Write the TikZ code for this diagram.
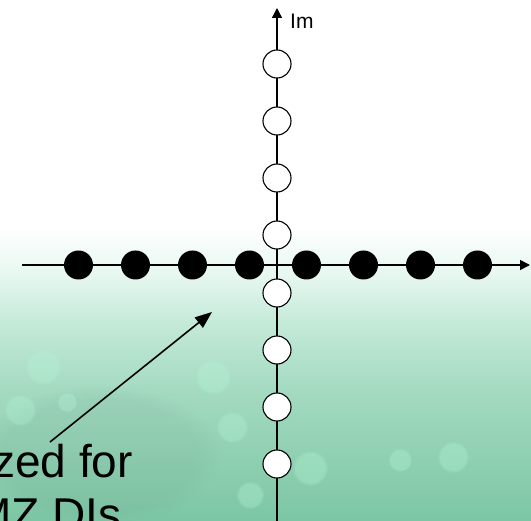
\documentclass[tikz,border=0pt]{standalone}
\usepackage{fontspec}
\setmainfont{Liberation Sans}
\usetikzlibrary{arrows.meta,fadings}
\definecolor{gA}{HTML}{E6F7F0}
\definecolor{gB}{HTML}{C6EBD9}
\definecolor{gC}{HTML}{A4DAC1}
\definecolor{gD}{HTML}{7CC6A4}
\definecolor{blob}{HTML}{B4F5D8}
\definecolor{shadowg}{HTML}{6A9C88}
\begin{document}
\begin{tikzpicture}[x=1pt,y=-1pt,
  axis/.style={line width=1.5pt,-{Triangle[length=10pt,width=10pt]}},
  pointer/.style={line width=1.6pt,-{Triangle[length=17pt,width=13pt]}},
  realpt/.style={circle,fill=black,minimum size=29pt,inner sep=0pt},
  imagpt/.style={circle,draw=black,line width=1.1pt,fill=white,minimum size=28pt,inner sep=0pt},
  softblob/.style={fill=blob,opacity=0.35,path fading=circle with fuzzy edge 20 percent},
  softshade/.style={fill=shadowg,opacity=0.12,path fading=circle with fuzzy edge 20 percent}]
\useasboundingbox (0,0) rectangle (531,521);
\clip (0,0) rectangle (531,521);
% background
\fill[white] (0,0) rectangle (531,521);
\shade[top color=white,bottom color=gA] (0,225) rectangle (531,276);
\shade[top color=gA,bottom color=gB] (0,275) rectangle (531,320);
\shade[top color=gB,bottom color=gC] (0,319) rectangle (531,390);
\shade[top color=gC,bottom color=gD] (0,389) rectangle (531,521);
\fill[softshade] (100,455) ellipse (120pt and 70pt);
\fill[softblob] (43,367) circle (18pt);
\fill[softblob] (20,410) circle (16pt);
\fill[softblob] (67,402) circle (10pt);
\fill[softblob] (213,377) circle (18pt);
\fill[softblob] (232,427) circle (16pt);
\fill[softblob] (310,468) circle (18pt);
\fill[softblob] (250,495) circle (14pt);
\fill[softblob] (453,457) circle (16pt);
\fill[softblob] (400,460) circle (12pt);
% axes
\coordinate (xl) at (22,265);
\coordinate (xr) at (530,265);
\coordinate (yb) at (277,530);
\coordinate (yt) at (277,8);
\draw[axis] (xl) -- (xr);
\draw[axis] (yb) -- (yt);
\node[anchor=base west,font=\fontsize{21}{25}\selectfont,inner sep=0pt] (im) at (290,29) {Im};
% real-axis points
\foreach \i/\x in {1/78.5,2/135.5,3/192.5,4/249.5,5/306.5,6/363.5,7/420.5,8/477.5}
  \node[realpt] (r\i) at (\x,265) {};
% imaginary-axis points
\foreach \i/\y in {1/64,2/121,3/178,4/235,5/293,6/350,7/407,8/464}
  \node[imagpt] (j\i) at (277,\y) {};
% annotation
\node[anchor=base west,font=\fontsize{46}{53}\selectfont,inner sep=0pt] (t1) at (-8,478) {zed for};
\node[anchor=base west,font=\fontsize{46}{53}\selectfont,inner sep=0pt] (t2) at (-27,531) {MZ DIs};
\coordinate (ps) at (50,442);
\coordinate (pe) at (212,312);
\draw[pointer] (ps) -- (pe);
\end{tikzpicture}
\end{document}
